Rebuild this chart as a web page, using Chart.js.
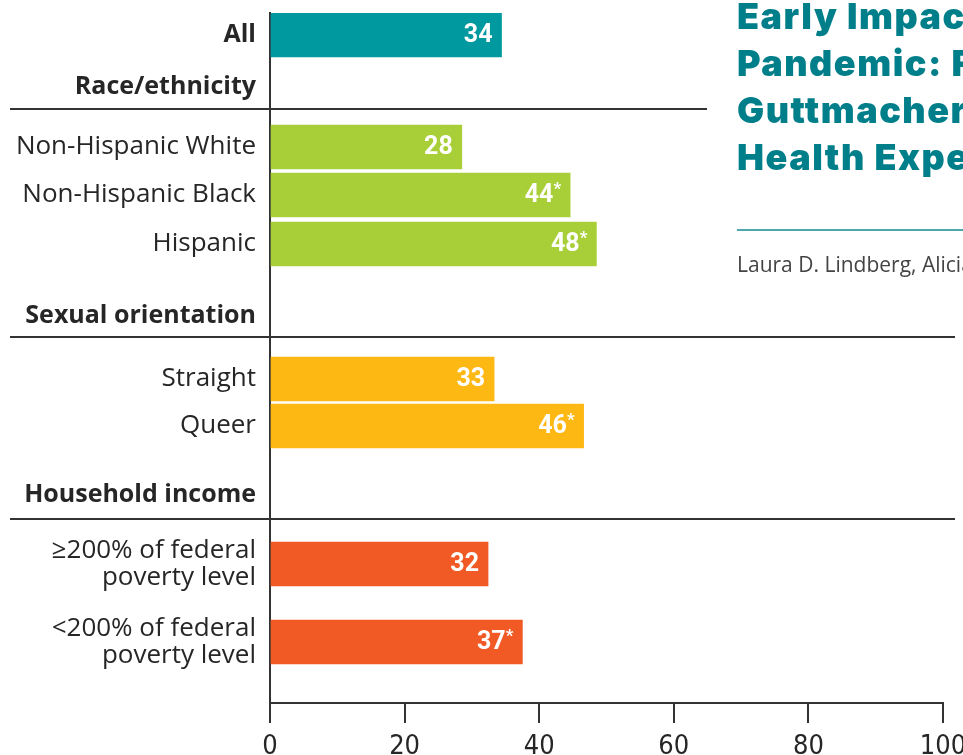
<!DOCTYPE html>
<html lang="en">
<head>
<meta charset="utf-8">
<script src="https://cdn.jsdelivr.net/npm/chart.js@4.4.1/dist/chart.umd.min.js"></script>
<style>
  body { margin: 0; background: #fff; overflow: hidden; }
  .wrap { position: relative; width: 963px; height: 755px; overflow: hidden; }
  #chart { position: absolute; left: 0; top: 0; }
  .title {
    position: absolute; left: 737px; top: -7px; white-space: nowrap;
    font-family: Inter, "Open Sans", sans-serif; font-weight: 900; letter-spacing: 1.5px;
    font-size: 36px; line-height: 47px; color: #007f8a;
  }
  .rule { position: absolute; left: 737px; top: 229px; width: 240px; height: 2px; background: #4fa7ae; }
  .authors {
    position: absolute; left: 737px; top: 250px; white-space: nowrap;
    font-family: "Open Sans", Roboto, sans-serif; font-size: 21px; line-height: 28px; color: #444;
  }
</style>
</head>
<body>
<div class="wrap">
  <canvas id="chart" width="963" height="755"></canvas>
  <div class="title">Early Impacts of the COVID-19<br>Pandemic: Findings from the 2020<br>Guttmacher Survey of Reproductive<br>Health Experiences</div>
  <div class="rule"></div>
  <div class="authors">Laura D. Lindberg, Alicia VandeVusse, Jennifer Mueller and Marielle Kirstein</div>
</div>
<script>
// data
const categories = ['All', 'Race/ethnicity', 'Non-Hispanic White', 'Non-Hispanic Black', 'Hispanic',
  'Sexual orientation', 'Straight', 'Queer', 'Household income',
  ['≥200% of federal', 'poverty level'], ['<200% of federal', 'poverty level']];
const values = [34.4, null, 28.5, 44.6, 48.5, null, 33.3, 46.6, null, 32.4, 37.5];
const valueLabels = ['34', '', '28', '44*', '48*', '', '33', '46*', '', '32', '37*'];
const groups = ['all', 'header', 'race', 'race', 'race', 'header', 'sex', 'sex', 'header', 'income', 'income'];
const xTicks = [0, 20, 40, 60, 80, 100];

// layout (row centres on the vertical scale, separators under the group headings)
const rowY = [22, 74, 134, 182, 231, 303, 366, 413, 482, 551, 629];
const separators = [{ y: 96, from: 10, to: 707 }, { y: 324, from: 10, to: 955 }, { y: 506, from: 10, to: 955 }];
const groupColors = { all: '#00999f', race: '#a9cf38', sex: '#fdb813', income: '#f15a24', header: '#fff' };
const ink = '#262626';

const barData = values.map((v, i) => ({ x: v, y: rowY[i] }));

const valueLabelPlugin = {
  id: 'valueLabels',
  afterDatasetsDraw(chart) {
    const ctx = chart.ctx;
    const meta = chart.getDatasetMeta(0);
    ctx.save();
    ctx.fillStyle = '#fff';
    ctx.textBaseline = 'middle';
    meta.data.forEach((bar, i) => {
      if (values[i] == null) return;
      const lbl = valueLabels[i];
      const star = lbl.endsWith('*');
      const num = star ? lbl.slice(0, -1) : lbl;
      let right = bar.x - 9;
      ctx.textAlign = 'right';
      if (star) {
        ctx.font = 'bold 17px Roboto, sans-serif';
        ctx.fillText('*', right, bar.y - 5);
        right -= ctx.measureText('*').width;
      }
      ctx.font = 'bold 25px Roboto, sans-serif';
      ctx.fillText(num, right, bar.y + 1);
    });
    ctx.restore();
  }
};

const separatorPlugin = {
  id: 'separators',
  afterDraw(chart) {
    const ctx = chart.ctx;
    const ys = chart.scales.y;
    ctx.save();
    ctx.strokeStyle = '#333';
    ctx.lineWidth = 2;
    separators.forEach(s => {
      const py = Math.round(ys.getPixelForValue(s.y));
      ctx.beginPath();
      ctx.moveTo(s.from, py);
      ctx.lineTo(s.to, py);
      ctx.stroke();
    });
    ctx.restore();
  }
};

new Chart(document.getElementById('chart'), {
  type: 'bar',
  data: {
    datasets: [{
      data: barData,
      backgroundColor: groups.map(g => groupColors[g]),
      borderWidth: 0,
      barThickness: 44
    }]
  },
  options: {
    indexAxis: 'y',
    responsive: false,
    animation: false,
    layout: { padding: { top: 13, right: 20, left: 0, bottom: 0 } },
    plugins: { legend: { display: false }, tooltip: { enabled: false } },
    scales: {
      x: {
        type: 'linear', min: 0, max: 100,
        afterBuildTicks: s => { s.ticks = xTicks.map(v => ({ value: v })); },
        afterFit: s => { s.height = 52; s.paddingLeft = 0; s.paddingRight = 0; },
        grid: { drawOnChartArea: false, tickLength: 20, color: '#333', lineWidth: 2 },
        border: { color: '#333', width: 2 },
        ticks: {
          padding: 8, color: ink, maxRotation: 0,
          font: { family: "'Liberation Sans Narrow', 'DejaVu Sans Condensed', Roboto, sans-serif", size: 27 }
        }
      },
      y: {
        type: 'linear', reverse: true, min: 0, max: 690, offset: false,
        afterBuildTicks: s => { s.ticks = rowY.map(v => ({ value: v })); },
        afterFit: s => { s.width = 270; s.paddingTop = 0; s.paddingBottom = 0; },
        grid: { drawOnChartArea: false, drawTicks: false },
        border: { color: '#333', width: 2 },
        ticks: {
          autoSkip: false, padding: 14, color: ink,
          callback: (v, i) => categories[i],
          font: c => {
            const bold = groups[c.index] === 'header' || groups[c.index] === 'all';
            return { family: "'Open Sans', Roboto, sans-serif", size: bold ? 25 : 26, lineHeight: 1.04, weight: bold ? 'bold' : 'normal' };
          }
        }
      }
    }
  },
  plugins: [valueLabelPlugin, separatorPlugin]
});
</script>
</body>
</html>
